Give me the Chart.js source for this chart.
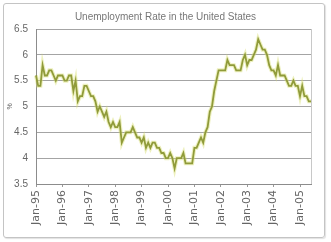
<!DOCTYPE html>
<html><head><meta charset="utf-8">
<script src="https://cdn.jsdelivr.net/npm/chart.js@4.4.1/dist/chart.umd.min.js"></script>
<style>
html,body{margin:0;padding:0;background:#fff;}
#wrap{position:relative;width:331px;height:242px;overflow:hidden;}
#frame{position:absolute;left:3px;top:3px;width:320px;height:233px;border:1px solid #c4c4c4;border-radius:3px;box-shadow:1px 1px 1px #e2e2e2;}
canvas{position:absolute;left:0;top:0;}
</style></head><body>
<div id="wrap"><div id="frame"></div><canvas id="c" width="331" height="242"></canvas></div>
<script>
const chartTitle = "Unemployment Rate in the United States";
const yAxisTitle = "%";
const yearTickLabels = ["Jan-95","Jan-96","Jan-97","Jan-98","Jan-99","Jan-00","Jan-01","Jan-02","Jan-03","Jan-04","Jan-05"];
const monthNames = ["Jan","Feb","Mar","Apr","May","Jun","Jul","Aug","Sep","Oct","Nov","Dec"];
const yTickValues = [3.5, 4, 4.5, 5, 5.5, 6, 6.5];

const rate1995 = [5.6,5.4,5.4,5.8,5.6,5.6,5.7,5.7,5.6,5.5,5.6,5.6];
const rate1996 = [5.6,5.5,5.5,5.6,5.6,5.3,5.5,5.1,5.2,5.2,5.4,5.4];
const rate1997 = [5.3,5.2,5.2,5.1,4.9,5.0,4.9,4.8,4.9,4.7,4.6,4.7];
const rate1998 = [4.6,4.6,4.7,4.3,4.4,4.5,4.5,4.5,4.6,4.5,4.4,4.4];
const rate1999 = [4.3,4.4,4.2,4.3,4.2,4.3,4.3,4.2,4.2,4.1,4.1,4.0];
const rate2000 = [4.0,4.1,4.0,3.8,4.0,4.0,4.0,4.1,3.9,3.9,3.9,3.9];
const rate2001 = [4.2,4.2,4.3,4.4,4.3,4.5,4.6,4.9,5.0,5.3,5.5,5.7];
const rate2002 = [5.7,5.7,5.7,5.9,5.8,5.8,5.8,5.7,5.7,5.7,5.9,6.0];
const rate2003 = [5.8,5.9,5.9,6.0,6.1,6.3,6.2,6.1,6.1,6.0,5.8,5.7];
const rate2004 = [5.7,5.6,5.8,5.6,5.6,5.6,5.5,5.4,5.4,5.5,5.4,5.4];
const rate2005 = [5.2,5.4,5.2,5.2,5.1,5.1];

const yearlyRates = [rate1995,rate1996,rate1997,rate1998,rate1999,rate2000,rate2001,rate2002,rate2003,rate2004,rate2005];
const categories = [];
const rates = [];
yearlyRates.forEach((arr, yi) => {
  const yy = yearTickLabels[yi].split('-')[1];
  arr.forEach((v, mi) => { categories.push(monthNames[mi] + '-' + yy); rates.push(v); });
});

const frameBorder = {
  id: 'frameBorder',
  afterDraw(chart) {
    const a = chart.chartArea, ctx = chart.ctx;
    ctx.save();
    ctx.strokeStyle = '#c8c8c8';
    ctx.lineWidth = 1;
    ctx.beginPath();
    ctx.moveTo(Math.round(a.right) + 0.5, a.top);
    ctx.lineTo(Math.round(a.right) + 0.5, a.bottom);
    ctx.stroke();
    ctx.restore();
  }
};

new Chart(document.getElementById('c'), {
  type: 'line',
  data: {
    labels: categories,
    datasets: [
      { data: rates, borderColor: 'rgba(215,222,110,0.45)', borderWidth: 4, pointRadius: 0, tension: 0, fill: false },
      { data: rates, borderColor: '#56650f', borderWidth: 1.8, pointRadius: 0, tension: 0, fill: false }
    ]
  },
  options: {
    responsive: false,
    animation: false,
    devicePixelRatio: 1,
    layout: { padding: 0 },
    plugins: {
      legend: { display: false },
      tooltip: { enabled: false },
      title: {
        display: true, text: chartTitle, color: '#777',
        font: { family: 'Liberation Sans', size: 10, weight: 'normal' },
        padding: { top: 11, bottom: 6 }
      }
    },
    scales: {
      x: {
        type: 'category',
        offset: false,
        grid: { display: true, drawOnChartArea: false, drawTicks: true, tickLength: 3, color: '#999', tickColor: '#999' },
        border: { color: '#8c8c8c' },
        ticks: {
          autoSkip: false, maxRotation: 90, minRotation: 90, padding: 3,
          color: '#666', font: { family: 'DejaVu Sans', size: 11 },
          callback: function (v) {
            const l = this.getLabelForValue(v);
            return yearTickLabels.includes(l) ? l : null;
          }
        },
        afterFit: s => { s.height = 58; }
      },
      y: {
        min: 3.5, max: 6.5,
        afterBuildTicks: s => { s.ticks = yTickValues.map(v => ({ value: v })); },
        ticks: {
          color: '#666', padding: 8,
          font: { family: 'Liberation Sans', size: 10 },
          callback: v => String(v)
        },
        grid: { color: '#a4a4a4', drawTicks: false },
        border: { color: '#8c8c8c' },
        title: {
          display: true, text: yAxisTitle, color: '#666',
          font: { family: 'Liberation Sans', size: 7 },
          padding: { top: 6, bottom: 0 }
        },
        afterFit: s => { s.width = 36; }
      },
      yRightSpace: {
        position: 'right',
        min: 3.5, max: 6.5,
        grid: { display: false, drawTicks: false },
        border: { display: false },
        ticks: { display: false },
        afterFit: s => { s.width = 20; }
      }
    }
  },
  plugins: [frameBorder]
});
</script>
</body></html>
